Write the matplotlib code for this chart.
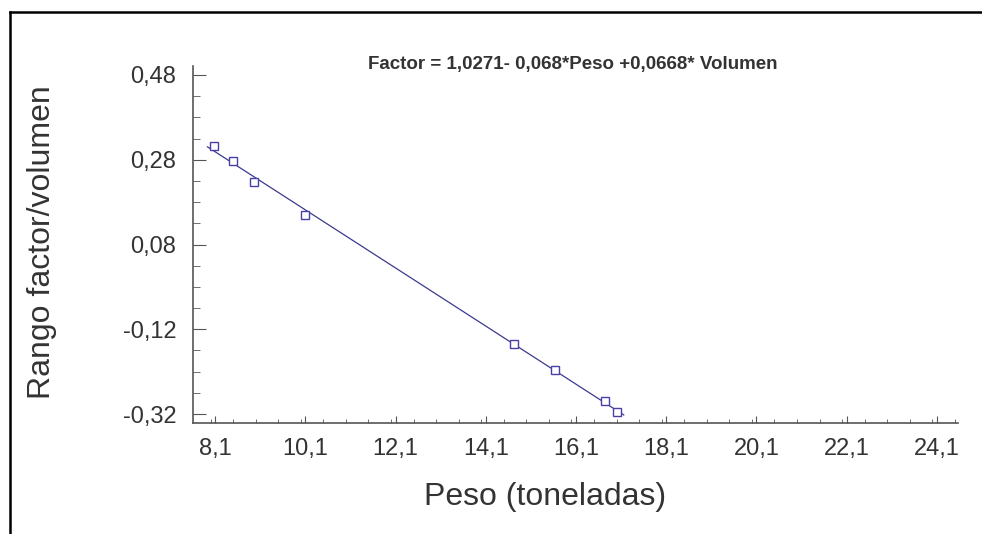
import numpy as np
import matplotlib
matplotlib.use('Agg')
import matplotlib.pyplot as plt
from matplotlib.lines import Line2D
from matplotlib.ticker import FixedLocator, MultipleLocator, FuncFormatter

# Peso (toneladas) vs rango factor/volumen
peso = [8.08, 8.50, 8.96, 10.10, 14.73, 15.64, 16.75, 17.01]
rango = [0.313, 0.278, 0.228, 0.150, -0.155, -0.216, -0.289, -0.315]

x_ticks = [8.1, 10.1, 12.1, 14.1, 16.1, 18.1, 20.1, 22.1, 24.1]
y_ticks = [-0.32, -0.12, 0.08, 0.28, 0.48]

title = 'Factor = 1,0271- 0,068*Peso +0,0668* Volumen'

plt.rcParams['font.family'] = ['Liberation Sans', 'DejaVu Sans']

fig = plt.figure(figsize=(9.82, 5.34), dpi=100)
ax = fig.add_axes([193 / 982, 1 - 423 / 534, 765 / 982, 357 / 534])

# fitted line through the points
coef = np.polyfit(peso, rango, 1)
xl = np.array([min(peso) - 0.15, max(peso) + 0.15])
ax.plot(xl, np.polyval(coef, xl), color='#3b3b8f', lw=0.9, zorder=2)
ax.plot(peso, rango, linestyle='none', marker='s', markersize=6,
        markerfacecolor='white', markeredgecolor='#4a3fa8', markeredgewidth=1.0, zorder=3)

ax.set_xlim(7.61, 24.57)
ax.set_ylim(-0.341, 0.501)

ax.xaxis.set_major_locator(FixedLocator(x_ticks))
ax.xaxis.set_minor_locator(MultipleLocator(0.5))
ax.yaxis.set_major_locator(FixedLocator(y_ticks))
ax.yaxis.set_minor_locator(FixedLocator(np.arange(-0.32, 0.50, 0.05)))

comma = lambda d: FuncFormatter(lambda v, p: f'{v:.{d}f}'.replace('.', ','))
ax.xaxis.set_major_formatter(comma(1))
ax.yaxis.set_major_formatter(comma(2))

for s in ['top', 'right']:
    ax.spines[s].set_visible(False)
for s in ['left', 'bottom']:
    ax.spines[s].set_color('#555555')
    ax.spines[s].set_linewidth(1.2)

ax.tick_params(axis='both', which='both', direction='in', colors='#555555',
               labelcolor='#333333', labelsize=17)
ax.tick_params(axis='y', which='major', length=9, pad=12)
ax.tick_params(axis='y', which='minor', length=5)
ax.tick_params(axis='x', which='major', length=5, pad=11)
ax.tick_params(axis='x', which='minor', length=3)

fig.text(545 / 982, 1 - 497 / 534, 'Peso (toneladas)', fontsize=23,
         color='#333333', ha='center', va='center')
fig.text(42 / 982, 1 - 242 / 534, 'Rango factor/volumen', fontsize=23,
         color='#333333', ha='center', va='center', rotation=90)
fig.text(573 / 982, 1 - 64 / 534, title, fontsize=13.5, fontweight='bold',
         color='#333333', ha='center', va='center')

# frame lines along the top and left edges
fig.add_artist(Line2D([10 / 982, 1.0], [1 - 12 / 534, 1 - 12 / 534],
                      transform=fig.transFigure, color='black', lw=1.8))
fig.add_artist(Line2D([10 / 982, 10 / 982], [0.0, 1 - 12 / 534],
                      transform=fig.transFigure, color='black', lw=1.8))

fig.savefig('out.png', dpi=100)
